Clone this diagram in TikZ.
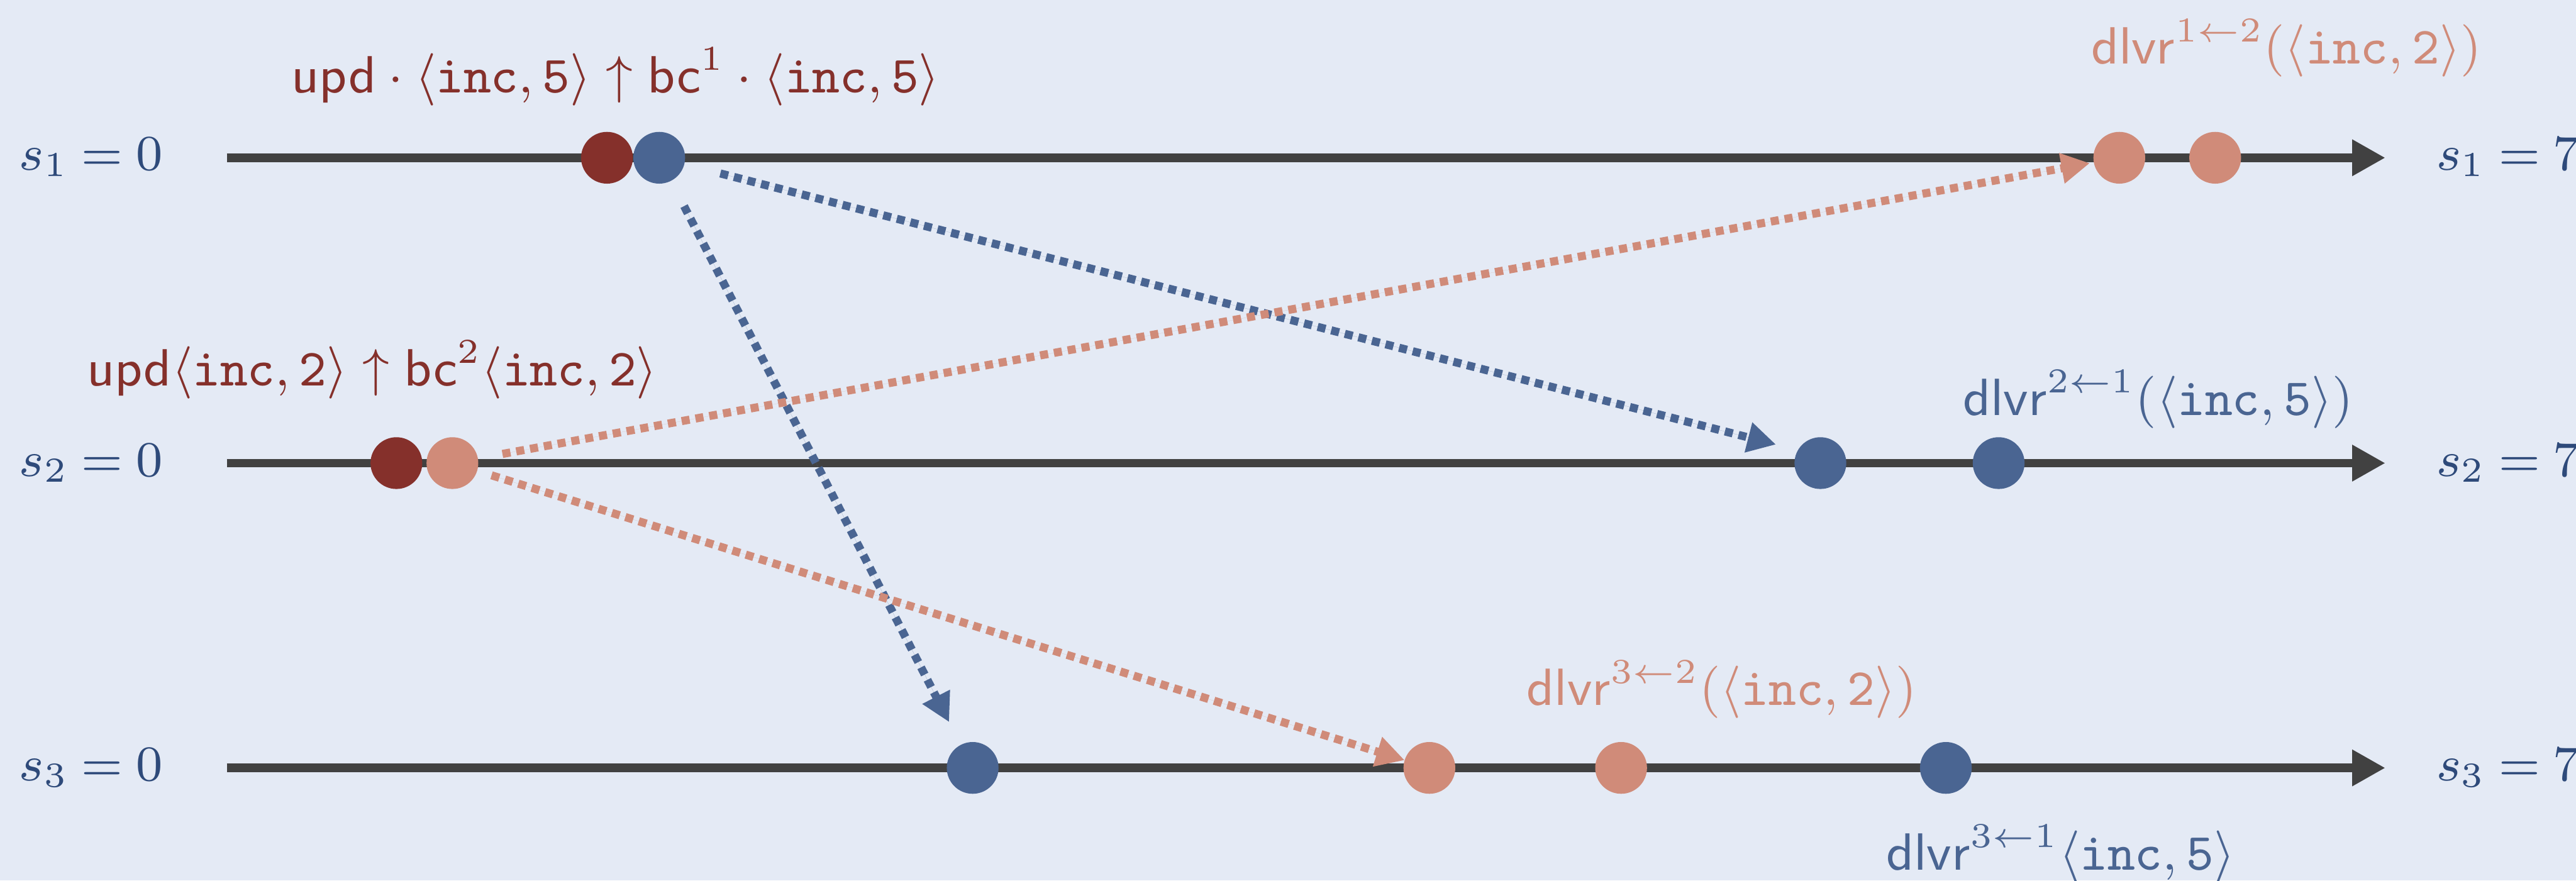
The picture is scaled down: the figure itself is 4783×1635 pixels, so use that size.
\RequirePackage{fix-cm}
\documentclass[tikz,border=0pt]{standalone}
\usetikzlibrary{arrows.meta}
\definecolor{bgc}{HTML}{E4EAF5}
\definecolor{dred}{HTML}{85302B}
\definecolor{dblue}{HTML}{4A6592}
\definecolor{pinkc}{HTML}{D08B79}
\definecolor{navy}{HTML}{2E4A7A}
\definecolor{linec}{HTML}{414141}
\newcommand{\stlab}[2]{$s_{#1}\mskip4.5mu{=}\mskip4.5mu#2$}
\begin{document}
\begin{tikzpicture}[x=0.0926pt,y=-0.0926pt,
  mainline/.style={draw=linec,line width=1.48pt,-{Triangle[length=5.7pt,width=5.9pt]}},
  msg/.style={line width=1.39pt,dash pattern=on 1.39pt off 1.02pt,-{Triangle[length=4.9pt,width=5pt]}},
  dot/.style={circle,inner sep=0pt,outer sep=0pt,minimum size=8.9pt,fill=#1},
  state/.style={inner sep=0pt,anchor=base west,text=navy,font=\fontsize{8.6}{10}\selectfont},
  lab/.style={inner sep=0pt,anchor=base,text=#1,font=\fontsize{9}{11}\selectfont}]
\fill[bgc] (0,0) rectangle (4783,1635);
\useasboundingbox (0,0) rectangle (4783,1635);
% process lines
\coordinate (a1) at (421,293); \coordinate (e1) at (4429,293);
\coordinate (a2) at (421,860); \coordinate (e2) at (4429,860);
\coordinate (a3) at (421,1426); \coordinate (e3) at (4429,1426);
\draw[mainline] (a1) -- (e1);
\draw[mainline] (a2) -- (e2);
\draw[mainline] (a3) -- (e3);
% state labels
\node[state] (s1l) at (34,316) {\stlab{1}{0}};
\node[state] (s2l) at (34,884) {\stlab{2}{0}};
\node[state] (s3l) at (34,1450) {\stlab{3}{0}};
\node[state] (s1r) at (4522,316) {\stlab{1}{7}};
\node[state] (s2r) at (4522,884) {\stlab{2}{7}};
\node[state] (s3r) at (4522,1450) {\stlab{3}{7}};
% events
\node[dot=dred]  (u1) at (1127,293) {};
\node[dot=dblue] (b1) at (1224,293) {};
\node[dot=pinkc] (d12a) at (3935,293) {};
\node[dot=pinkc] (d12b) at (4113,293) {};
\node[dot=dred]  (u2) at (736,860) {};
\node[dot=pinkc] (b2) at (840,860) {};
\node[dot=dblue] (d21a) at (3380,860) {};
\node[dot=dblue] (d21b) at (3711,860) {};
\node[dot=dblue] (d31a) at (1806,1426) {};
\node[dot=pinkc] (d32a) at (2654,1426) {};
\node[dot=pinkc] (d32b) at (3010,1426) {};
\node[dot=dblue] (d31b) at (3613,1426) {};
% messages
\draw[msg,draw=dblue,fill=dblue,shorten <=6.4pt,shorten >=3.9pt] (b1) -- (d21a.150);
\draw[msg,draw=dblue,fill=dblue,shorten <=4.9pt,shorten >=4.4pt] (b1) -- (d31a);
\draw[msg,draw=pinkc,fill=pinkc,shorten <=4.3pt,shorten >=0.7pt] (b2) -- (d12a);
\draw[msg,draw=pinkc,fill=pinkc,shorten <=2.6pt,shorten >=0pt] (b2) -- (d32a);
% labels
\node[lab=dred] (t1) at (1143,172) {$\mathsf{upd}\cdot\langle\mathtt{inc},\mathtt{5}\rangle\uparrow\mathsf{bc}^1\cdot\langle\mathtt{inc},\mathtt{5}\rangle$};
\node[lab=dred] (t2) at (691,716) {$\mathsf{upd}\langle\mathtt{inc},\mathtt{2}\rangle\uparrow\mathsf{bc}^2\langle\mathtt{inc},\mathtt{2}\rangle$};
\node[lab=pinkc] (t3) at (4245,119) {$\mathsf{dlvr}^{1\leftarrow2}(\langle\mathtt{inc},\mathtt{2}\rangle)$};
\node[lab=dblue] (t4) at (4007,771) {$\mathsf{dlvr}^{2\leftarrow1}(\langle\mathtt{inc},\mathtt{5}\rangle)$};
\node[lab=pinkc] (t5) at (3197,1310) {$\mathsf{dlvr}^{3\leftarrow2}(\langle\mathtt{inc},\mathtt{2}\rangle)$};
\node[lab=dblue] (t6) at (3826,1615) {$\mathsf{dlvr}^{3\leftarrow1}\langle\mathtt{inc},\mathtt{5}\rangle$};
\end{tikzpicture}
\end{document}
